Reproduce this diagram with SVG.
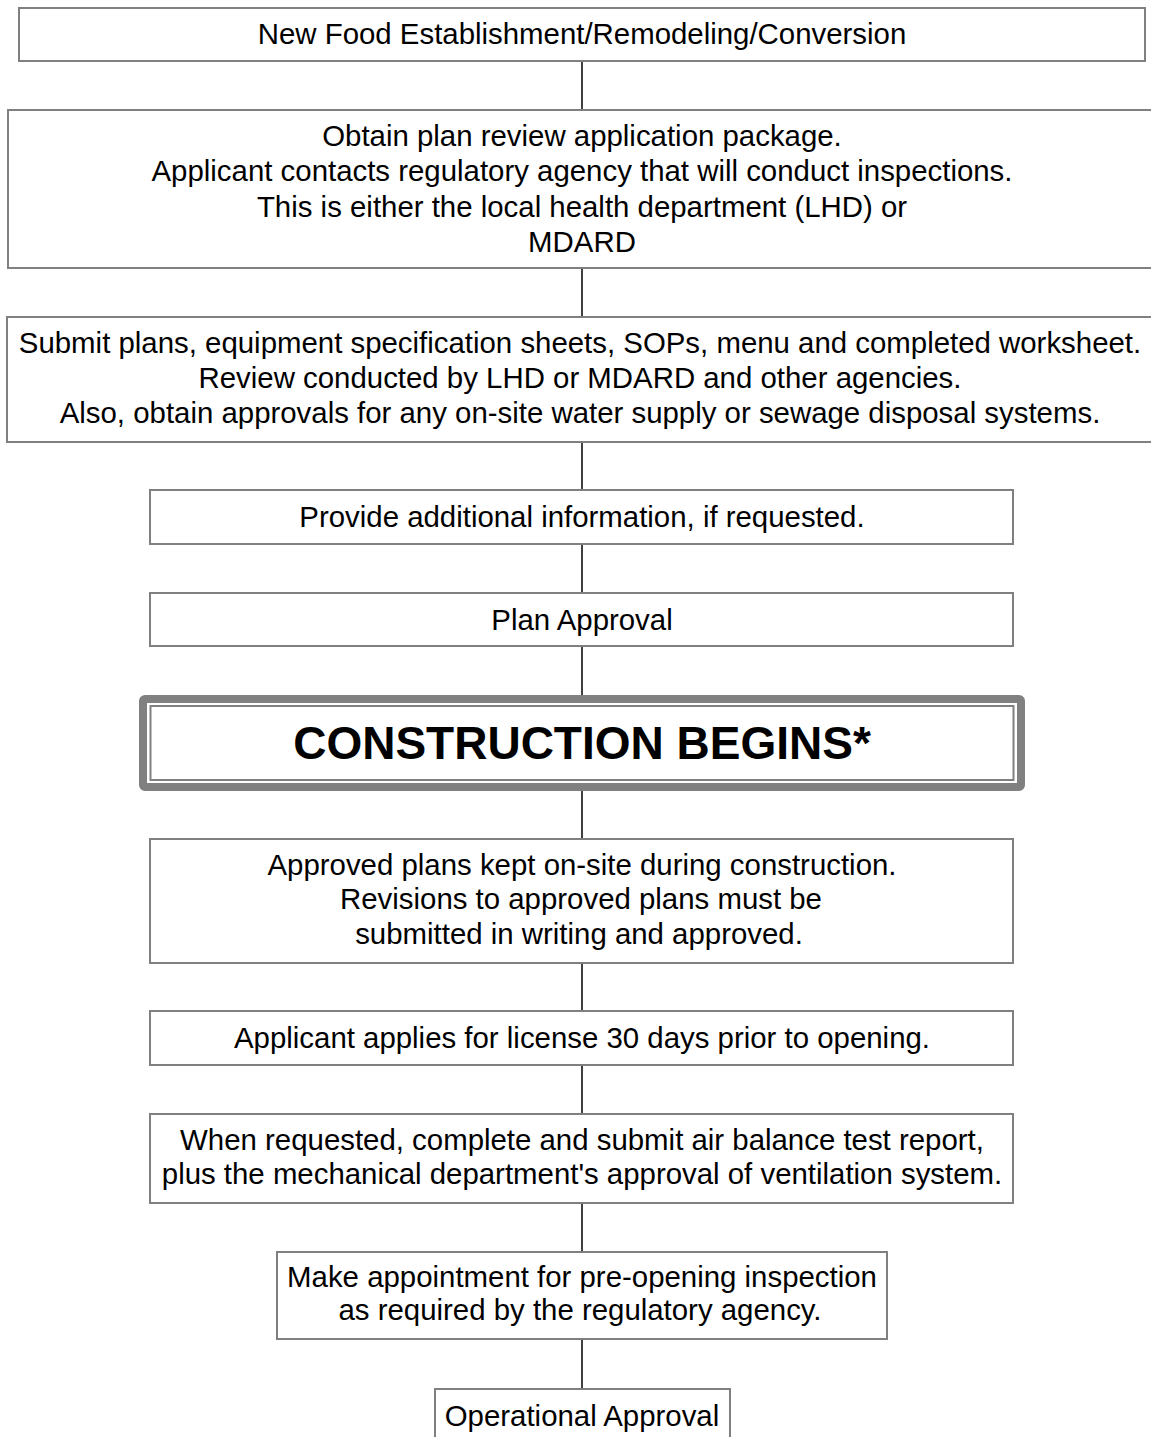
<svg xmlns="http://www.w3.org/2000/svg" width="1151" height="1437" viewBox="0 0 1151 1437">
<style>
.box{fill:#fff;stroke:#808080;stroke-width:2}
.t{font-family:"Liberation Sans",Arial,sans-serif;font-size:29.4px;fill:#000;text-anchor:middle}
.big{font-family:"Liberation Sans",Arial,sans-serif;font-size:46px;font-weight:bold;fill:#000;text-anchor:middle}
.c{stroke:#000;stroke-width:1.5;fill:none}
</style>
<rect width="1151" height="1437" fill="#fff"/>
<g id="connectors">
<line class="c" x1="582" y1="61" x2="582" y2="110"/>
<line class="c" x1="582" y1="268" x2="582" y2="317"/>
<line class="c" x1="582" y1="442" x2="582" y2="490"/>
<line class="c" x1="582" y1="544" x2="582" y2="593"/>
<line class="c" x1="582" y1="646" x2="582" y2="695"/>
<line class="c" x1="582" y1="791" x2="582" y2="839"/>
<line class="c" x1="582" y1="963" x2="582" y2="1011"/>
<line class="c" x1="582" y1="1065" x2="582" y2="1114"/>
<line class="c" x1="582" y1="1203" x2="582" y2="1252"/>
<line class="c" x1="582" y1="1339" x2="582" y2="1389"/>
</g>
<g id="n1">
<rect class="box" x="19" y="8" width="1126" height="53"/>
<text class="t" x="582" y="44">New Food Establishment/Remodeling/Conversion</text>
</g>
<g id="n2">
<rect class="box" x="8" y="110" width="1148" height="158"/>
<text class="t" x="582" y="146">Obtain plan review application package.</text>
<text class="t" x="582" y="181">Applicant contacts regulatory agency that will conduct inspections.</text>
<text class="t" x="582" y="216.5">This is either the local health department (LHD) or</text>
<text class="t" x="582" y="252">MDARD</text>
</g>
<g id="n3">
<rect class="box" x="7" y="317" width="1150" height="125"/>
<text class="t" x="580" y="353">Submit plans, equipment specification sheets, SOPs, menu and completed worksheet.</text>
<text class="t" x="580" y="388">Review conducted by LHD or MDARD and other agencies.</text>
<text class="t" x="580" y="423">Also, obtain approvals for any on-site water supply or sewage disposal systems.</text>
</g>
<g id="n4">
<rect class="box" x="150" y="490" width="863" height="54"/>
<text class="t" x="582" y="527">Provide additional information, if requested.</text>
</g>
<g id="n5">
<rect class="box" x="150" y="593" width="863" height="53"/>
<text class="t" x="582" y="630">Plan Approval</text>
</g>
<g id="n6">
<rect x="143" y="699" width="878" height="88" rx="2" fill="#fff" stroke="#808080" stroke-width="8"/>
<rect x="150.5" y="706" width="863" height="74" fill="none" stroke="#808080" stroke-width="2"/>
<text class="big" x="582" y="759">CONSTRUCTION BEGINS*</text>
</g>
<g id="n7">
<rect class="box" x="150" y="839" width="863" height="124"/>
<text class="t" x="582" y="875">Approved plans kept on-site during construction.</text>
<text class="t" x="581" y="909">Revisions to approved plans must be</text>
<text class="t" x="579" y="944">submitted in writing and approved.</text>
</g>
<g id="n8">
<rect class="box" x="150" y="1011" width="863" height="54"/>
<text class="t" x="582" y="1048">Applicant applies for license 30 days prior to opening.</text>
</g>
<g id="n9">
<rect class="box" x="150" y="1114" width="863" height="89"/>
<text class="t" x="582" y="1150">When requested, complete and submit air balance test report,</text>
<text class="t" x="582" y="1184">plus the mechanical department's approval of ventilation system.</text>
</g>
<g id="n10">
<rect class="box" x="277" y="1252" width="610" height="87"/>
<text class="t" x="582" y="1287">Make appointment for pre-opening inspection</text>
<text class="t" x="580" y="1320">as required by the regulatory agency.</text>
</g>
<g id="n11">
<rect class="box" x="435" y="1389" width="295" height="60"/>
<text class="t" x="582" y="1426">Operational Approval</text>
</g>
</svg>
